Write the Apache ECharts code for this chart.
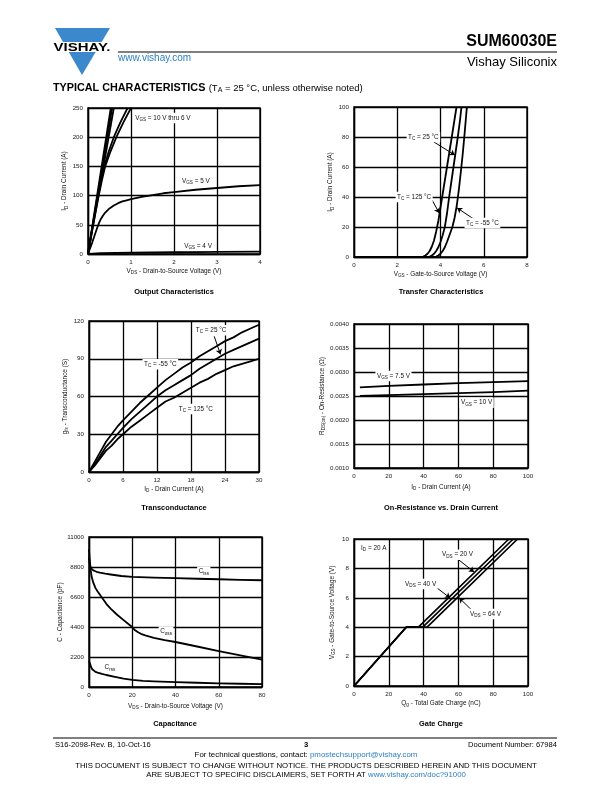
<!DOCTYPE html>
<html><head><meta charset="utf-8">
<script src="https://cdn.jsdelivr.net/npm/echarts@6/dist/echarts.min.js"></script>
<style>html,body{margin:0;padding:0;background:#fff}#c{width:612px;height:792px}</style>
</head><body><div id="c"></div>
<script>
// ---------- DATA ----------
// Output characteristics (VDS V, ID A)
const outV10 = [[0,0],[0.53,250]];
const outV9  = [[0,0],[0.56,250]];
const outV8  = [[0,0],[0.60,250]];
const outV7  = [[0,0],[0.1,45],[0.23,100],[0.3,125],[0.38,150],[0.48,175],[0.6,200],[0.75,225],[0.92,250]];
const outV6  = [[0,0],[0.1,42],[0.25,100],[0.32,125],[0.4,150],[0.52,175],[0.66,200],[0.82,225],[1.0,250]];
const outV5  = [[0,0],[0.1,20],[0.2,42],[0.25,52],[0.3,60],[0.35,66],[0.4,71],[0.5,78],[0.6,83],[0.7,87],[0.8,90],[0.9,92],[1,94],[1.25,98],[1.5,101],[1.75,104],[2,106],[2.5,110],[3,113],[3.5,116],[4,118]];
const outV4  = [[0,0],[0.3,1.5],[1,2.5],[2,3],[3,3.5],[4,4]];
// Transfer characteristics (VGS V, ID A)
const tr125 = [[0,0],[3.1,0],[3.2,0.3],[3.3,1],[3.4,2.2],[3.5,4],[3.6,7],[3.7,11],[3.8,17],[3.9,24],[4.0,33],[4.1,42],[4.2,51],[4.3,60],[4.4,69],[4.5,78],[4.62,89],[4.74,100]];
const tr25  = [[0,0],[3.4,0],[3.5,0.3],[3.6,1],[3.7,2.2],[3.8,4],[3.9,6.5],[4.0,10],[4.1,14.5],[4.2,20],[4.3,29],[4.4,40],[4.5,50],[4.6,60],[4.7,70],[4.8,80],[4.9,91],[4.97,100]];
const trM55 = [[0,0],[3.7,0],[3.8,0.3],[3.9,1],[4.0,2.2],[4.1,4],[4.2,6.5],[4.3,10],[4.4,14],[4.5,18],[4.55,20],[4.65,26],[4.75,34],[4.85,45],[4.95,58],[5.03,69],[5.1,80],[5.16,90],[5.22,100]];
// Transconductance (ID A, gfs S)
const gfsM55 = [[0,0],[1,8],[2,16],[3,24],[4,30],[5,36],[6,41],[7.5,48],[9,55],[10.5,61],[12,67],[13.5,73],[15,78],[16.5,83],[18,87],[19.5,92],[21,96],[22.5,100],[24,104],[25.5,107],[27,111],[28.5,114],[30,117]];
const gfs25  = [[0,0],[1,6],[2,13],[3,20],[4,25],[5,30],[6,35],[7.5,42],[9,48],[10.5,54],[12,60],[13.5,65],[15,69],[16.5,73],[18,77],[19.5,82],[21,86],[22.5,90],[24,94],[25.5,97],[27,100],[28.5,103],[30,106]];
const gfs125 = [[0,0],[1,5],[2,11],[3,17],[4,21],[5,26],[6,30],[7.5,36],[9,41],[10.5,46],[12,51],[13.5,56],[15,59],[16.5,63],[18,67],[19.5,71],[21,74],[22.5,78],[24,81],[25.5,84],[27,86],[28.5,88],[30,90]];
// On-resistance (ID A, RDS ohm)
const rds75 = [[3.4,0.00268],[20,0.00271],[40,0.00274],[60,0.00277],[80,0.00279],[100,0.00281]];
const rds10 = [[3.4,0.00250],[20,0.00252],[40,0.00254],[60,0.00256],[80,0.00258],[100,0.00261]];
// Capacitance (VDS V, C pF)
const ciss = [[0,9500],[0.3,9050],[0.6,8850],[1,8700],[2,8550],[3.5,8450],[5,8380],[7.5,8310],[10,8250],[15,8140],[20,8070],[30,8020],[40,7990],[50,7940],[60,7900],[70,7860],[80,7830]];
const coss = [[0,10100],[0.3,9400],[0.7,8700],[1.2,8100],[2,7650],[3,7250],[4,7000],[5.8,6600],[8,6100],[10,5750],[13,5300],[16,4900],[19.5,4450],[21,4200],[22.5,4030],[24,3900],[26,3780],[30,3600],[35,3430],[40,3300],[50,2970],[60,2630],[70,2320],[80,2000]];
const crss = [[0,1900],[0.5,1700],[1,1450],[1.5,1300],[2,1200],[3,1110],[4,1050],[6,960],[8,880],[12,750],[16,620],[20,520],[25,450],[30,410],[40,360],[50,310],[60,270],[70,240],[80,215]];
// Gate charge (Qg nC, VGS V)
const qg20 = [[0,0],[30,4],[37,4],[89,10]];
const qg40 = [[0,0],[30,4],[39.5,4],[91.5,10]];
const qg64 = [[0,0],[30,4],[42,4],[94,10]];

// ---------- STYLE ----------
const FONT = '"Liberation Sans", Arial, Helvetica, sans-serif';
const FS = 6.4;
const R = {
  n: {fontSize: FS, fontFamily: FONT, color: '#111'},
  s: {fontSize: 4.6, fontFamily: FONT, color: '#111', padding: [3.5,0,0,0]}
};
const grids = [
  {left: 88, top: 108, width: 172, height: 146},
  {left: 354, top: 107, width: 173, height: 150},
  {left: 89, top: 321, width: 170, height: 151},
  {left: 354, top: 324, width: 174, height: 144},
  {left: 89, top: 537, width: 173, height: 150},
  {left: 354, top: 539, width: 174, height: 147}
].map(g => Object.assign({show: true, borderColor: '#000', borderWidth: 1.4, containLabel: false}, g));

function ax(gi, min, max, interval, name, gap, isY, fmt) {
  const o = {
    gridIndex: gi, type: 'value', min, max, interval,
    name, nameLocation: 'middle', nameGap: gap,
    nameTextStyle: {fontSize: FS, fontFamily: FONT, color: '#111', rich: R},
    axisLine: {show: true, onZero: false, lineStyle: {color: '#000', width: 1.4}},
    axisTick: {show: false},
    axisLabel: {fontSize: 6.2, fontFamily: FONT, color: '#222', margin: 5, showMinLabel: true, showMaxLabel: true,
      formatter: fmt || (v => String(v))},
    splitLine: {show: true, lineStyle: {color: '#000', width: 1.3}}
  };
  if (isY) o.nameRotate = 90;
  return o;
}
const xAxes = [
  ax(0, 0, 4, 1, '{n|V}{s|DS}{n| - Drain-to-Source Voltage (V)}', 13, false),
  ax(1, 0, 8, 2, '{n|V}{s|GS}{n| - Gate-to-Source Voltage (V)}', 13, false),
  ax(2, 0, 30, 6, '{n|I}{s|D}{n| - Drain Current (A)}', 13, false),
  ax(3, 0, 100, 20, '{n|I}{s|D}{n| - Drain Current (A)}', 15, false),
  ax(4, 0, 80, 20, '{n|V}{s|DS}{n| - Drain-to-Source Voltage (V)}', 15, false),
  ax(5, 0, 100, 20, '{n|Q}{s|g}{n| - Total Gate Charge (nC)}', 13, false)
];
const yAxes = [
  ax(0, 0, 250, 50, '{n|I}{s|D}{n| - Drain Current (A)}', 19, true),
  ax(1, 0, 100, 20, '{n|I}{s|D}{n| - Drain Current (A)}', 17, true),
  ax(2, 0, 120, 30, '{n|g}{s|fs}{n| - Transconductance (S)}', 20, true),
  ax(3, 0.001, 0.004, 0.0005, '{n|R}{s|DS(on)}{n| - On-Resistance (Ω)}', 27, true, v => v.toFixed(4)),
  ax(4, 0, 11000, 2200, '{n|C - Capacitance (pF)}', 23, true),
  ax(5, 0, 10, 2, '{n|V}{s|GS}{n| - Gate-to-Source Voltage (V)}', 18, true)
];

// annotations (data coordinates)
const lbl = (x, y, t) => ({coord: [x, y], value: t});
const arr = (a, b) => [{coord: a}, {coord: b}];
function mp(list) {
  return {
    symbol: 'circle', symbolSize: 1, itemStyle: {color: 'rgba(0,0,0,0)'}, silent: true,
    label: {show: true, position: 'right', distance: 0, formatter: p => p.value,
      backgroundColor: '#fff', padding: [1, 1.5], fontSize: FS, fontFamily: FONT, color: '#111', rich: R},
    data: list
  };
}
function ml(list) {
  return {silent: true, symbol: ['none', 'arrow'], symbolSize: 5, label: {show: false},
    lineStyle: {color: '#000', width: 1, type: 'solid'}, data: list};
}
const TC = t => '{n|T}{s|C}{n| = ' + t + ' °C}';
const VGS = t => '{n|V}{s|GS}{n| = ' + t + '}';
const VDS = t => '{n|V}{s|DS}{n| = ' + t + '}';

function line(gi, data, extra) {
  return Object.assign({type: 'line', xAxisIndex: gi, yAxisIndex: gi, data, showSymbol: false, symbol: 'none',
    lineStyle: {color: '#000', width: 1.8, join: 'round'}, z: 3}, extra || {});
}

const series = [
  line(0, outV10), line(0, outV9), line(0, outV8),
  line(0, outV7), line(0, outV6),
  line(0, outV5, {markPoint: mp([
    lbl(1.05, 233, VGS('10 V thru 6 V')), lbl(2.14, 125, VGS('5 V')), lbl(2.19, 14, VGS('4 V'))])}),
  line(0, outV4),

  line(1, tr125, {markPoint: mp([
    lbl(2.41, 80, TC('25')), lbl(1.9, 40, TC('125')), lbl(5.09, 22.7, TC('-55'))]),
    markLine: ml([arr([3.66, 77], [4.66, 68]), arr([3.61, 38], [3.94, 29.3]), arr([5.6, 24.7], [4.77, 32.7])])}),
  line(1, tr25), line(1, trM55),

  line(2, gfsM55, {markPoint: mp([
    lbl(18.5, 112.6, TC('25')), lbl(9.35, 85.6, TC('-55')), lbl(15.5, 50, TC('125'))]),
    markLine: ml([arr([22.1, 107.8], [23.2, 93.5])])}),
  line(2, gfs25), line(2, gfs125),

  line(3, rds75, {markPoint: mp([
    lbl(12, 0.002917, VGS('7.5 V')), lbl(60.3, 0.00236, VGS('10 V'))])}),
  line(3, rds10),

  line(4, ciss, {markPoint: mp([
    lbl(49.8, 8455, '{n|C}{s|iss}'), lbl(32, 4055, '{n|C}{s|oss}'), lbl(6.3, 1415, '{n|C}{s|rss}')])}),
  line(4, coss), line(4, crss),

  line(5, qg20, {lineStyle: {color: '#000', width: 1.7}, markPoint: mp([
    lbl(2.9, 9.39, '{n|I}{s|D}{n| = 20 A}'), lbl(49.4, 8.93, VDS('20 V')), lbl(28.2, 6.94, VDS('40 V')), lbl(65.5, 4.9, VDS('64 V'))]),
    markLine: ml([arr([60.3, 8.57], [69, 7.76]), arr([47.5, 6.69], [55.2, 5.99]), arr([67.6, 5.17], [60.5, 5.99])])}),
  line(5, qg40, {lineStyle: {color: '#000', width: 1.7}}),
  line(5, qg64, {lineStyle: {color: '#000', width: 1.7}})
];

// ---------- PAGE TEXT ----------
const T = (x, y, text, opt) => ({type: 'text', x, y, z: 10,
  style: Object.assign({text, fontFamily: FONT, fontSize: 8, fill: '#000', textVerticalAlign: 'middle'}, opt || {})});
const LN = (x1, y1, x2, y2, w, c) => ({type: 'line', shape: {x1, y1, x2, y2}, style: {stroke: c || '#000', lineWidth: w || 1}, z: 10});
const titles = [
  [174, 292, 'Output Characteristics'], [441, 292, 'Transfer Characteristics'],
  [174, 508, 'Transconductance'], [441, 508, 'On-Resistance vs. Drain Current'],
  [175, 724, 'Capacitance'], [441, 724, 'Gate Charge']
];
const graphic = [
  {type: 'polygon', shape: {points: [[55, 28], [110, 28], [82, 75]]}, style: {fill: '#3b88cd'}, z: 10},
  {type: 'rect', shape: {x: 50, y: 42, width: 66, height: 10}, style: {fill: '#fff'}, z: 10},
  {type: 'text', x: 82, y: 47.5, scaleX: 1.3, z: 11, style: {text: 'VISHAY.', fontFamily: FONT, fontSize: 11.5,
    fontWeight: 'bold', fill: '#000', textAlign: 'center', textVerticalAlign: 'middle'}},
  LN(118, 52, 557, 52, 1),
  T(118, 58.5, 'www.vishay.com', {fontSize: 10, fill: '#2b7fc3'}),
  T(557, 42, 'SUM60030E', {fontSize: 16, fontWeight: 'bold', textAlign: 'right'}),
  T(557, 62, 'Vishay Siliconix', {fontSize: 13, textAlign: 'right'}),
  {type: 'text', x: 53, y: 88, z: 10, style: {
    text: '{b|TYPICAL CHARACTERISTICS} {r|(T}{rs|A}{r| = 25 °C, unless otherwise noted)}',
    textVerticalAlign: 'middle',
    rich: {b: {fontFamily: FONT, fontSize: 10.8, fontWeight: 'bold', fill: '#000'},
           r: {fontFamily: FONT, fontSize: 9.5, fill: '#000'},
           rs: {fontFamily: FONT, fontSize: 7, fill: '#000', padding: [4, 0, 0, 0]}}}},
  ...titles.map(t => T(t[0], t[1], t[2], {fontSize: 7.4, fontWeight: 'bold', textAlign: 'center'})),
  LN(53, 738, 557, 738, 1),
  T(55, 745, 'S16-2098-Rev. B, 10-Oct-16', {fontSize: 7.6}),
  T(306, 745, '3', {fontSize: 7.6, fontWeight: 'bold', textAlign: 'center'}),
  T(557, 745, 'Document Number: 67984', {fontSize: 7.6, textAlign: 'right'}),
  {type: 'text', x: 306, y: 755, z: 10, style: {
    text: '{a|For technical questions, contact: }{l|pmostechsupport@vishay.com}',
    textAlign: 'center', textVerticalAlign: 'middle',
    rich: {a: {fontFamily: FONT, fontSize: 7.9, fill: '#000'}, l: {fontFamily: FONT, fontSize: 7.9, fill: '#2b7fc3'}}}},
  T(306, 766, 'THIS DOCUMENT IS SUBJECT TO CHANGE WITHOUT NOTICE. THE PRODUCTS DESCRIBED HEREIN AND THIS DOCUMENT', {fontSize: 7.8, textAlign: 'center'}),
  {type: 'text', x: 306, y: 775, z: 10, style: {
    text: '{a|ARE SUBJECT TO SPECIFIC DISCLAIMERS, SET FORTH AT }{l|www.vishay.com/doc?91000}',
    textAlign: 'center', textVerticalAlign: 'middle',
    rich: {a: {fontFamily: FONT, fontSize: 7.8, fill: '#000'}, l: {fontFamily: FONT, fontSize: 7.8, fill: '#2b7fc3'}}}}
];

const chart = echarts.init(document.getElementById('c'), null, {renderer: 'canvas'});
chart.setOption({animation: false, backgroundColor: '#fff', grid: grids, xAxis: xAxes, yAxis: yAxes, series, graphic});
</script>
</body></html>
